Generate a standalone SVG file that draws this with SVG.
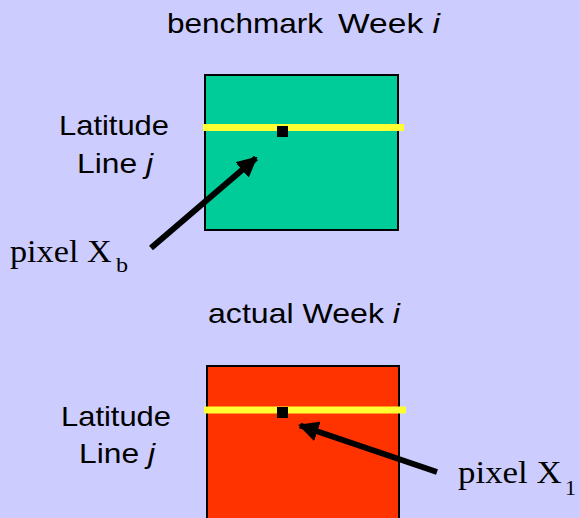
<svg xmlns="http://www.w3.org/2000/svg" width="580" height="518" viewBox="0 0 580 518">
<style>
.sans{font-family:"Liberation Sans",Arial,sans-serif;font-size:28px;fill:#000}
.serif{font-family:"Liberation Serif","Times New Roman",serif;font-size:32px;fill:#000}
.sub{font-family:"Liberation Serif","Times New Roman",serif;font-size:22px;fill:#000}
.it{font-style:italic}
.lat{stroke:#FFFF33;stroke-width:7}
.px{fill:#000}
.arrow{stroke:#000;stroke-width:6;fill:none}
</style>
<defs>
<marker id="ah" viewBox="0 0 10 10" refX="9" refY="5" markerWidth="3.4" markerHeight="3.4" markerUnits="strokeWidth" orient="auto">
<path d="M0,0 L10,5 L0,10 z" fill="#000"/>
</marker>
</defs>
<rect width="580" height="518" fill="#CCCCFF"/>
<g id="benchmark">
<text class="sans" x="167" y="33" textLength="156" lengthAdjust="spacingAndGlyphs">benchmark</text>
<text class="sans" x="338" y="33" textLength="102" lengthAdjust="spacingAndGlyphs">Week <tspan class="it">i</tspan></text>
<rect x="205" y="75" width="193" height="155" fill="#00CC99" stroke="#000" stroke-width="2"/>
<line class="lat" x1="203" y1="127.5" x2="404" y2="127.5"/>
<rect class="px" x="277" y="126" width="11" height="11"/>
<text class="sans" x="59" y="135" textLength="110" lengthAdjust="spacingAndGlyphs">Latitude</text>
<text class="sans" x="77" y="173" textLength="76" lengthAdjust="spacingAndGlyphs">Line <tspan class="it">j</tspan></text>
</g>
<g id="actual">
<text class="sans" x="208" y="323" textLength="192" lengthAdjust="spacingAndGlyphs">actual Week <tspan class="it">i</tspan></text>
<rect x="207" y="366" width="192" height="160" fill="#FF3300" stroke="#000" stroke-width="2"/>
<line class="lat" x1="204" y1="410" x2="406" y2="410"/>
<rect class="px" x="277" y="407" width="11" height="11"/>
<text class="sans" x="61" y="426" textLength="110" lengthAdjust="spacingAndGlyphs">Latitude</text>
<text class="sans" x="79" y="463" textLength="76" lengthAdjust="spacingAndGlyphs">Line <tspan class="it">j</tspan></text>
</g>
<g id="label-xb">
<text class="serif" transform="translate(10,262) scale(1.07,1)">pixel X</text>
<text class="sub" transform="translate(116,272) scale(1.1,1)">b</text>
</g>
<g id="label-x1">
<text class="serif" transform="translate(458,483) scale(1.09,1)">pixel X</text>
<text class="sub" transform="translate(565,495)">1</text>
</g>
<g id="connectors">
<line class="arrow" x1="151" y1="248" x2="256" y2="158" marker-end="url(#ah)"/>
<line class="arrow" x1="437" y1="472" x2="300" y2="425.5" marker-end="url(#ah)"/>
</g>
</svg>
